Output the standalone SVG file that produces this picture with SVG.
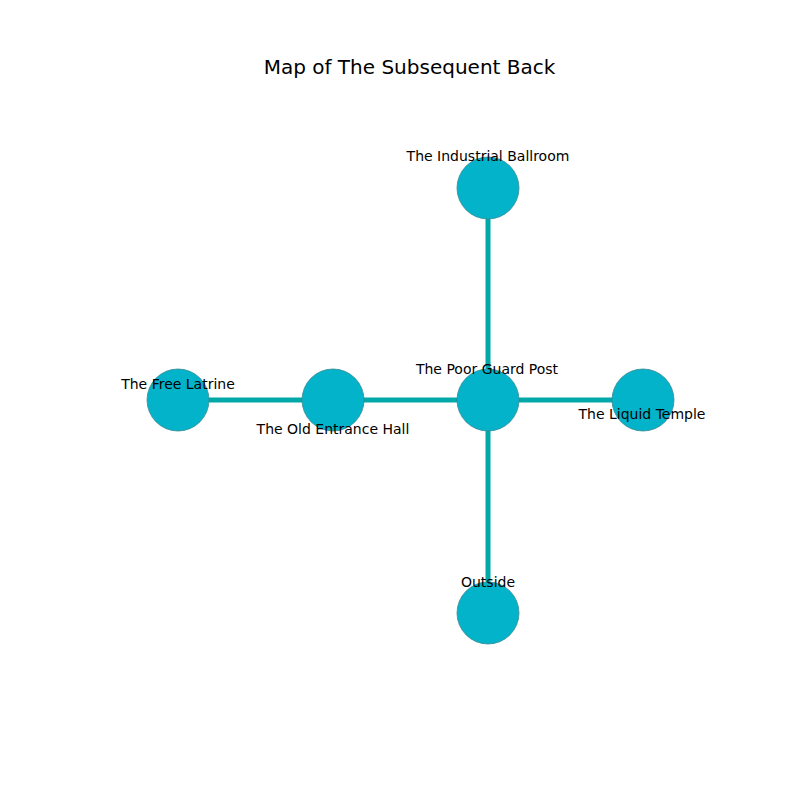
<svg xmlns="http://www.w3.org/2000/svg" width="800" height="800" viewBox="0 0 800 800">
<style>
.edge{stroke:#00a8a8;stroke-width:5;fill:none}
.node{fill:#02b3ca;stroke:#3a8a96;stroke-width:0.8}
.lbl{font-family:"DejaVu Sans",sans-serif;font-size:14px;fill:#000;text-anchor:middle}
.title{font-family:"DejaVu Sans",sans-serif;font-size:20px;fill:#000;text-anchor:middle}
</style>
<rect width="800" height="800" fill="#fff"/>
<text class="title" x="409.5" y="74">Map of The Subsequent Back</text>
<g id="edges">
<line class="edge" x1="488" y1="188" x2="488" y2="400"/>
<line class="edge" x1="178" y1="400" x2="333" y2="400"/>
<line class="edge" x1="333" y1="400" x2="488" y2="400"/>
<line class="edge" x1="488" y1="400" x2="643" y2="400"/>
<line class="edge" x1="488" y1="400" x2="488" y2="613"/>
</g>
<g id="n-ballroom"><circle class="node" cx="488" cy="188" r="31"/><text class="lbl" x="488" y="161">The Industrial Ballroom</text></g>
<g id="n-latrine"><circle class="node" cx="178" cy="400" r="31"/><text class="lbl" x="178" y="389">The Free Latrine</text></g>
<g id="n-entrance"><circle class="node" cx="333" cy="400" r="31"/><text class="lbl" x="333" y="434">The Old Entrance Hall</text></g>
<g id="n-guard"><circle class="node" cx="488" cy="400" r="31"/><text class="lbl" x="487" y="374">The Poor Guard Post</text></g>
<g id="n-temple"><circle class="node" cx="643" cy="400" r="31"/><text class="lbl" x="642" y="419">The Liquid Temple</text></g>
<g id="n-outside"><circle class="node" cx="488" cy="613" r="31"/><text class="lbl" x="488" y="587">Outside</text></g>
</svg>
